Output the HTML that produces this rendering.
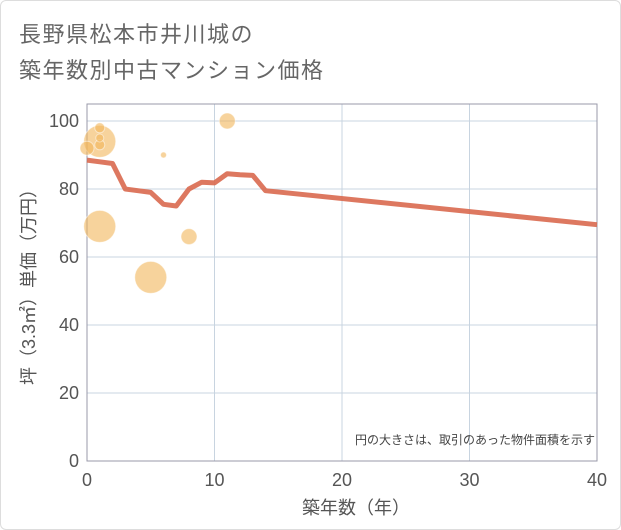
<!DOCTYPE html>
<html><head><meta charset="utf-8"><style>
body{margin:0;background:#fff;}
#wrap{position:relative;width:619px;height:528px;border:1px solid #ddd;border-radius:6px;overflow:hidden;font-family:"Liberation Sans","Noto Sans CJK JP",sans-serif;}
.title{position:absolute;left:18px;font-size:22px;color:#666;letter-spacing:1.5px;white-space:nowrap;}
svg{position:absolute;left:0;top:0;}
</style></head><body>
<div id="wrap">
<div class="title" style="top:16px">長野県松本市井川城の</div>
<div class="title" style="top:52px">築年数別中古マンション価格</div>
<svg id="chart" width="621" height="530"></svg>
</div>
<script>
const xTicks=[0,10,20,30,40];
const yTicks=[0,20,40,60,80,100];
const bubbleX=[1,1,1,1,0,6,11,1,8,5];
const bubbleY=[94,98,93,95,92,90,100,69,66,54];
const bubbleR=[16,5,5,4,7,3,8,16,8,16];
const lineX=[0,1,2,3,4,5,6,7,8,9,10,11,12,13,14,40];
const lineY=[88.5,88,87.5,80,79.5,79,75.5,75,80,82,81.8,84.5,84.2,84,79.5,69.5];
const X0=86,X1=596,Y0=460,YT=103;
const sx=v=>X0+(v-0)*(X1-X0)/40;
const sy=v=>Y0-v*3.4;
const svg=document.getElementById('chart');
const NS='http://www.w3.org/2000/svg';
function mk(t,a){const e=document.createElementNS(NS,t);for(const k in a)e.setAttribute(k,a[k]);svg.appendChild(e);return e;}
const bg=mk('rect',{x:X0,y:YT,width:X1-X0,height:Y0-YT,fill:'#fff'});


yTicks.forEach(t=>{
 const g=mk('line',{x1:X0,x2:X1,y1:sy(t),y2:sy(t),stroke:'#c8d4e0','stroke-width':1});
 
 
 const l=mk('text',{x:X0-8,y:sy(t)+6,'text-anchor':'end','font-size':18,fill:'#555'});
 l.textContent=t;
 
 
});
xTicks.forEach(t=>{
 const g=mk('line',{x1:sx(t),x2:sx(t),y1:YT,y2:Y0,stroke:'#c8d4e0','stroke-width':1});
 
 
 const l=mk('text',{x:sx(t),y:Y0+25,'text-anchor':'middle','font-size':18,fill:'#555'});
 l.textContent=t;
 
 
});
const fr=mk('rect',{x:X0,y:YT,width:X1-X0,height:Y0-YT,fill:'none',stroke:'#99a'});


bubbleX.forEach((v,i)=>{
 const c=mk('circle',{cx:sx(v),cy:sy(bubbleY[i]),r:bubbleR[i],fill:'#f2b65a','fill-opacity':0.6,stroke:'#fff','stroke-opacity':0.5});
 
 
});
const p=mk('polyline',{points:lineX.map((v,i)=>sx(v)+','+sy(lineY[i])).join(' '),fill:'none',stroke:'#d9694f','stroke-width':5,'stroke-opacity':0.9,'stroke-linejoin':'round'});


const n=mk('text',{x:X1-2,y:443,'text-anchor':'end','font-size':12,fill:'#444'});
n.textContent='円の大きさは、取引のあった物件面積を示す';


const xt=mk('text',{x:(X0+X1)/2+14,y:513,'text-anchor':'middle','font-size':18,fill:'#555'});
xt.textContent='築年数（年）';


const yt=mk('text',{x:0,y:0,'text-anchor':'middle','font-size':18,fill:'#555',transform:'translate(34,'+((YT+Y0)/2)+') rotate(-90)'});
yt.textContent='坪（3.3㎡）単価（万円）';


</script>
</body></html>
